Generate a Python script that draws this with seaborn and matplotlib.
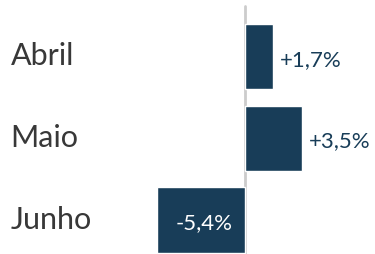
import pandas as pd
import matplotlib.pyplot as plt
import seaborn as sns

meses = ['Abril', 'Maio', 'Junho']
variacao = [1.7, 3.5, -5.4]
rotulos = ['+1,7%', '+3,5%', '-5,4%']

df = pd.DataFrame({'mes': meses, 'variacao': variacao})

azul = '#183d58'
cinza = '#383838'

sns.set_style('white')
plt.rcParams['font.family'] = ['Lato', 'DejaVu Sans']

fig = plt.figure(figsize=(3.75, 2.55), dpi=100)
ax = fig.add_axes([0, 0, 1, 1])

sns.barplot(data=df, x='variacao', y='mes', orient='h', color=azul,
            width=0.8, saturation=1, ax=ax)

# eixo do zero
ax.axvline(0, ymin=0, ymax=0.973, color='#cccccc', lw=2, zorder=0)

for i, (v, txt) in enumerate(zip(variacao, rotulos)):
    y = i + 0.1
    if v >= 0:
        ax.annotate(txt, (v, y), xytext=(5, 0), textcoords='offset points',
                    ha='left', va='baseline', color=azul, fontsize=16)
    else:
        ax.annotate(txt, (0, y), xytext=(-9, 0), textcoords='offset points',
                    ha='right', va='baseline', color='white', fontsize=16)
    ax.text(0.028, i + 0.092, meses[i], transform=ax.get_yaxis_transform(),
            ha='left', va='baseline', color=cinza, fontsize=22)

ax.set_xlim(-15.03, 7.98)
ax.set_ylim(2.416, -0.703)
ax.set_xlabel('')
ax.set_ylabel('')
ax.set_xticks([])
ax.set_yticks([])
for s in ax.spines.values():
    s.set_visible(False)

fig.savefig('out.png', dpi=100)
